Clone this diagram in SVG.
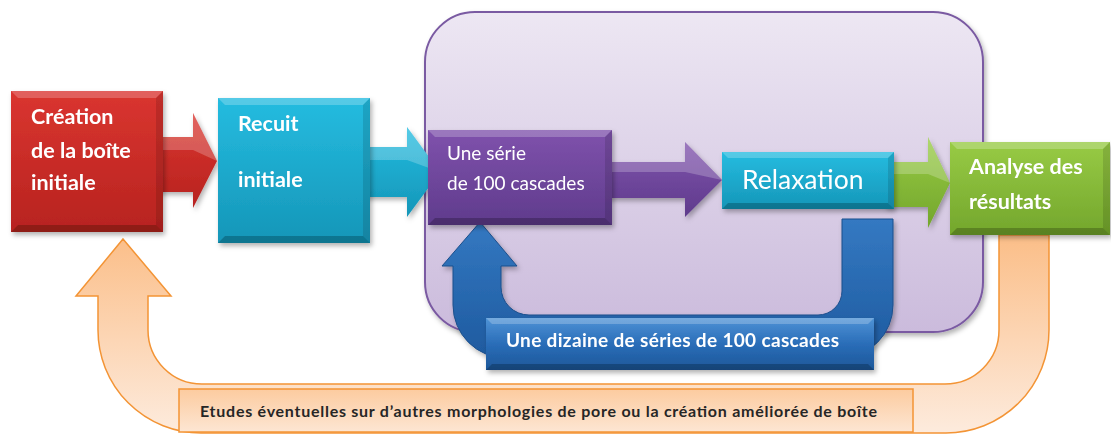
<svg xmlns="http://www.w3.org/2000/svg" width="1111" height="434" viewBox="0 0 1111 434">
<style>
.tw{font-family:Lato,"Open Sans","Liberation Sans",sans-serif;fill:#ffffff}
.b{font-weight:bold}
.hl{fill:#ffffff;opacity:0.22}
.sh{fill:#000000;opacity:0.22}
.sl{fill:#ffffff;opacity:0.08}
.sr{fill:#000000;opacity:0.12}
</style>
<defs>
<linearGradient id="gCont" x1="0" y1="0" x2="0" y2="1"><stop offset="0" stop-color="#EDE7F3"/><stop offset="1" stop-color="#CBBBDC"/></linearGradient>
<linearGradient id="gRed" x1="0" y1="0" x2="0" y2="1"><stop offset="0" stop-color="#DA3530"/><stop offset="1" stop-color="#B7231F"/></linearGradient>
<linearGradient id="gTeal" x1="0" y1="0" x2="0" y2="1"><stop offset="0" stop-color="#25BCE0"/><stop offset="1" stop-color="#1596B8"/></linearGradient>
<linearGradient id="gPur" x1="0" y1="0" x2="0" y2="1"><stop offset="0" stop-color="#7F52AC"/><stop offset="1" stop-color="#5F3B8C"/></linearGradient>
<linearGradient id="gGrn" x1="0" y1="0" x2="0" y2="1"><stop offset="0" stop-color="#98CB45"/><stop offset="1" stop-color="#73A62C"/></linearGradient>
<linearGradient id="gBlue" x1="0" y1="0" x2="0" y2="1"><stop offset="0" stop-color="#3479C2"/><stop offset="1" stop-color="#1E5A9F"/></linearGradient>
<linearGradient id="gBlueL" x1="0" y1="0" x2="0" y2="1"><stop offset="0" stop-color="#4F93D6"/><stop offset="0.5" stop-color="#2A6DB8"/><stop offset="1" stop-color="#1D5799"/></linearGradient>
<linearGradient id="gOr" x1="0" y1="0" x2="0" y2="1"><stop offset="0" stop-color="#FBBE88"/><stop offset="1" stop-color="#FDEBDD"/></linearGradient>
<linearGradient id="gOrL" x1="0" y1="0" x2="0" y2="1"><stop offset="0" stop-color="#FCCB9F"/><stop offset="1" stop-color="#FDE6D3"/></linearGradient>
<filter id="ds" x="-10%" y="-10%" width="130%" height="130%"><feDropShadow dx="2" dy="3" stdDeviation="2.5" flood-color="#000" flood-opacity="0.3"/></filter>
</defs>

<g id="container">
<rect x="425" y="12" width="558" height="320" rx="50" fill="url(#gCont)" stroke="#7A5AA2" stroke-width="2" filter="url(#ds)"/>
</g>

<g id="connectors">
<path id="arrow-red" d="M150,137 L193,137 L193,113 L217,161 L193,208 L193,192 L150,192 Z" fill="url(#gRed)" filter="url(#ds)"/>
<path d="M150,137 L193,137 L193,113 L217,161 L193,150 L150,150 Z" class="hl"/>
<path id="arrow-teal" d="M360,147 L407,147 L407,127 L440,172 L407,217 L407,197 L360,197 Z" fill="url(#gTeal)" filter="url(#ds)"/>
<path d="M360,147 L407,147 L407,127 L440,172 L407,160 L360,160 Z" class="hl"/>
<path id="arrow-purple" d="M600,162 L685,162 L685,142 L722,180 L685,217 L685,198 L600,198 Z" fill="url(#gPur)" filter="url(#ds)"/>
<path d="M600,162 L685,162 L685,142 L722,180 L685,172 L600,172 Z" class="hl"/>
<path id="arrow-green" d="M885,162 L928,162 L928,137 L950,183 L928,228 L928,207 L885,207 Z" fill="url(#gGrn)" filter="url(#ds)"/>
<path d="M885,162 L928,162 L928,137 L950,183 L928,174 L885,174 Z" class="hl"/>

<path id="loop-blue" d="M480,222 L517,266 L501,266 L501,287 A28,28 0 0 0 529,315 L818,315 A24,24 0 0 0 842,291 L842,219 L893,219 L893,305 A53,53 0 0 1 840,358 L506,358 A53,53 0 0 1 453,305 L453,266 L442,266 Z" fill="url(#gBlue)" stroke="#1C4F8C" stroke-width="1" filter="url(#ds)"/>
<path id="loop-orange" d="M123,239 L171,296 L148,296 L148,330 A54,54 0 0 0 202,384 L945,384 A54,54 0 0 0 999,330 L999,235 L1049,235 L1049,330 A103,103 0 0 1 946,433 L201,433 A103,103 0 0 1 98,330 L98,296 L76,296 Z" fill="url(#gOr)" stroke="#F39435" stroke-width="1.5"/>
</g>

<g id="node-creation" filter="url(#ds)">
<rect x="11" y="91" width="152" height="141" fill="url(#gRed)"/>
<path d="M11,91 L163,91 L156,98 L18,98 Z" class="hl"/>
<path d="M11,232 L163,232 L156,225 L18,225 Z" class="sh"/>
<path d="M163,91 L163,232 L156,225 L156,98 Z" class="sr"/>
<text class="tw b" x="31" y="124" font-size="21.5">Création</text>
<text class="tw b" x="31" y="158" font-size="21.5">de la boîte</text>
<text class="tw b" x="31" y="190" font-size="21.5">initiale</text>
</g>

<g id="node-recuit" filter="url(#ds)">
<rect x="218" y="98" width="152" height="145" fill="url(#gTeal)"/>
<path d="M218,98 L370,98 L363,105 L225,105 Z" class="hl"/>
<path d="M218,243 L370,243 L363,236 L225,236 Z" class="sh"/>
<path d="M370,98 L370,243 L363,236 L363,105 Z" class="sr"/>
<text class="tw b" x="238" y="131" font-size="21.5">Recuit</text>
<text class="tw b" x="238" y="187" font-size="21.5">initiale</text>
</g>

<g id="node-serie" filter="url(#ds)">
<rect x="428" y="130" width="184" height="95" fill="url(#gPur)"/>
<path d="M428,130 L612,130 L605,137 L435,137 Z" class="hl"/>
<path d="M428,225 L612,225 L605,218 L435,218 Z" class="sh"/>
<path d="M612,130 L612,225 L605,218 L605,137 Z" class="sr"/>
<text class="tw" x="447" y="160" font-size="19">Une série</text>
<text class="tw" x="447" y="190" font-size="19">de 100 cascades</text>
</g>

<g id="node-relaxation" filter="url(#ds)">
<rect x="722" y="152" width="172" height="57" fill="url(#gTeal)"/>
<path d="M722,152 L894,152 L888,158 L728,158 Z" class="hl"/>
<path d="M722,209 L894,209 L888,203 L728,203 Z" class="sh"/>
<path d="M894,152 L894,209 L888,203 L888,158 Z" class="sr"/>
<text class="tw" x="742" y="189" font-size="26.5">Relaxation</text>
</g>

<g id="node-analyse" filter="url(#ds)">
<rect x="950" y="142" width="160" height="93" fill="url(#gGrn)"/>
<path d="M950,142 L1110,142 L1103,149 L957,149 Z" class="hl"/>
<path d="M950,235 L1110,235 L1103,228 L957,228 Z" class="sh"/>
<path d="M1110,142 L1110,235 L1103,228 L1103,149 Z" class="sr"/>
<text class="tw b" x="969" y="174" font-size="21.5">Analyse des</text>
<text class="tw b" x="969" y="209" font-size="21.5">résultats</text>
</g>

<g id="label-dizaine" filter="url(#ds)">
<rect x="486" y="318" width="388" height="52" fill="url(#gBlueL)"/>
<path d="M486,318 L874,318 L868,324 L492,324 Z" class="hl"/>
<path d="M486,370 L874,370 L868,364 L492,364 Z" class="sh"/>
<text class="tw b" x="506" y="347" font-size="19" textLength="333" lengthAdjust="spacing">Une dizaine de séries de 100 cascades</text>
</g>

<g id="label-etudes">
<rect x="179" y="389" width="734" height="43" fill="url(#gOrL)" stroke="#F39435" stroke-width="1.5"/>
<text x="200" y="417" font-size="16" font-weight="bold" fill="#262626" font-family="Lato,'Open Sans','Liberation Sans',sans-serif" textLength="677" lengthAdjust="spacing">Etudes éventuelles sur d’autres morphologies de pore ou la création améliorée de boîte</text>
</g>
</svg>
